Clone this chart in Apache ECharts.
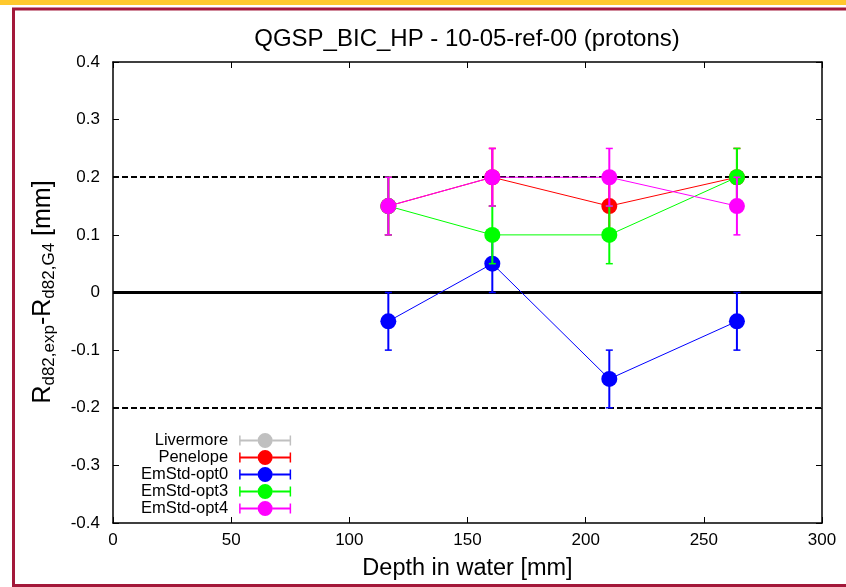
<!DOCTYPE html>
<html>
<head>
<meta charset="utf-8">
<script src="https://cdn.jsdelivr.net/npm/echarts@6/dist/echarts.min.js"></script>
<style>
  html, body { margin: 0; padding: 0; background: #fff; }
  #chart { width: 846px; height: 587px; }
</style>
</head>
<body>
<div id="chart"></div>
<script>
// depth of the measurement points [mm]
var depth = [116.5, 160.5, 210, 264];

// R_exp - R_G4 [mm] per physics list
var livermore = [];
var penelope = [0.15, 0.2, 0.15, 0.2];
var emstdOpt0 = [-0.05, 0.05, -0.15, -0.05];
var emstdOpt3 = [0.15, 0.1, 0.1, 0.2];
var emstdOpt4 = [0.15, 0.2, 0.2, 0.15];

// error bars (half width)
var penelopeErr = [0.05, 0.05, 0.05, 0.05];
var emstdOpt0Err = [0.05, 0.05, 0.05, 0.05];
var emstdOpt3Err = [0.05, 0.05, 0.05, 0.05];
var emstdOpt4Err = [0.05, 0.05, 0.05, 0.05];

var bandLines = [0.2, -0.2];
var zeroLine = [0];

var xTicks = [0, 50, 100, 150, 200, 250, 300];
var yTicks = [-0.4, -0.3, -0.2, -0.1, 0, 0.1, 0.2, 0.3, 0.4];

var FONT = 'Liberation Sans';

// legend icon: error bar with a dot in the middle
var errIcon = 'path://M0,2.5L1.5,2.5L1.5,12.5L0,12.5Z' +
  'M1.5,6.6L18.6,6.6L18.6,8.4L1.5,8.4Z' +
  'M33.4,6.6L50.5,6.6L50.5,8.4L33.4,8.4Z' +
  'M50.5,2.5L52,2.5L52,12.5L50.5,12.5Z' +
  'M18.5,7.5A7.5,7.5,0,1,0,33.5,7.5A7.5,7.5,0,1,0,18.5,7.5Z';

var models = [
  {name: 'Livermore', color: '#c0c0c0', vals: livermore, err: []},
  {name: 'Penelope', color: '#ff0000', vals: penelope, err: penelopeErr},
  {name: 'EmStd-opt0', color: '#0000ff', vals: emstdOpt0, err: emstdOpt0Err},
  {name: 'EmStd-opt3', color: '#00ff00', vals: emstdOpt3, err: emstdOpt3Err},
  {name: 'EmStd-opt4', color: '#ff00ff', vals: emstdOpt4, err: emstdOpt4Err}
];

function makeErrRender(color) {
  return function (params, api) {
    var x = api.value(0);
    var lo = api.coord([x, api.value(1)]);
    var hi = api.coord([x, api.value(2)]);
    var c = 3.5;
    return {
      type: 'group',
      children: [
        {type: 'line', shape: {x1: lo[0], y1: lo[1], x2: hi[0], y2: hi[1]}, style: {stroke: color, lineWidth: 2}},
        {type: 'line', shape: {x1: lo[0] - c, y1: lo[1], x2: lo[0] + c, y2: lo[1]}, style: {stroke: color, lineWidth: 1.5}},
        {type: 'line', shape: {x1: hi[0] - c, y1: hi[1], x2: hi[0] + c, y2: hi[1]}, style: {stroke: color, lineWidth: 1.5}}
      ]
    };
  };
}

var series = [];
// reference lines
series.push({
  type: 'line', name: '_ref', data: [], silent: true, z: 1,
  markLine: {
    silent: true, symbol: 'none', label: {show: false}, animation: false,
    data: bandLines.map(function (v) {
      return {yAxis: v, lineStyle: {color: '#000', width: 2, type: [6, 3]}};
    }).concat(zeroLine.map(function (v) {
      return {yAxis: v, lineStyle: {color: '#000', width: 3, type: 'solid'}};
    }))
  }
});

models.forEach(function (m, i) {
  var pts = m.vals.map(function (v, k) { return [depth[k], v]; });
  var errs = m.vals.map(function (v, k) {
    return [depth[k], v - m.err[k], v + m.err[k]];
  });
  series.push({
    type: 'custom', name: m.name, z: 2 + i * 2,
    renderItem: makeErrRender(m.color),
    itemStyle: {color: m.color},
    encode: {x: 0, y: [1, 2]},
    data: errs,
    animation: false
  });
  series.push({
    type: 'line', name: m.name, z: 3 + i * 2,
    data: pts,
    color: m.color,
    symbol: 'circle', symbolSize: 16,
    lineStyle: {color: m.color, width: 1},
    itemStyle: {color: m.color},
    animation: false
  });
});

function boxAxis(extra) {
  var base = {
    type: 'value',
    axisLine: {onZero: false, lineStyle: {color: '#000', width: 1.5}},
    axisTick: {inside: true, length: 6, lineStyle: {color: '#000'}},
    splitLine: {show: false}
  };
  for (var k in extra) base[k] = extra[k];
  return base;
}

var chart = echarts.init(document.getElementById('chart'));
chart.setOption({
  backgroundColor: '#fff',
  animation: false,
  title: {
    text: 'QGSP_BIC_HP - 10-05-ref-00 (protons)',
    left: 462, top: 22, textAlign: 'center',
    textStyle: {fontFamily: FONT, fontSize: 24, fontWeight: 'normal', color: '#000'}
  },
  legend: {
    orient: 'vertical', align: 'right',
    left: 136, top: 427,
    itemWidth: 52, itemHeight: 15, itemGap: 0,
    textStyle: {fontFamily: FONT, fontSize: 16.5, lineHeight: 14, color: '#000', padding: [0, 6, 0, 0]},
    data: models.map(function (m) {
      return {name: m.name, icon: errIcon, itemStyle: {color: m.color, borderWidth: 0}};
    }),
    selectedMode: false
  },
  grid: {left: 113, right: 24, top: 62, bottom: 64},
  xAxis: [boxAxis({
    min: xTicks[0], max: xTicks[xTicks.length - 1], interval: 50,
    name: 'Depth in water [mm]', nameLocation: 'middle', nameGap: 34,
    nameTextStyle: {fontFamily: FONT, fontSize: 23.5, color: '#000'},
    axisLabel: {fontFamily: FONT, fontSize: 17, color: '#000', margin: 9}
  }), boxAxis({
    position: 'top', min: xTicks[0], max: xTicks[xTicks.length - 1], interval: 50,
    axisLabel: {show: false}
  })],
  yAxis: [boxAxis({
    min: yTicks[0], max: yTicks[yTicks.length - 1], interval: 0.1,
    axisLabel: {fontFamily: FONT, fontSize: 17, color: '#000', margin: 13}
  }), boxAxis({
    position: 'right', min: yTicks[0], max: yTicks[yTicks.length - 1], interval: 0.1,
    axisLabel: {show: false}
  })],
  graphic: [
    {type: 'rect', shape: {x: 0, y: 0, width: 846, height: 5}, style: {fill: '#ffc82e'}, silent: true},
    {type: 'rect', shape: {x: 13.5, y: 9, width: 900, height: 576.5}, style: {fill: 'none', stroke: '#a3183a', lineWidth: 3}, silent: true},
    {
      type: 'text', x: 43, y: 292, rotation: Math.PI / 2, silent: true,
      style: {
        text: '{r|R}{s|d82,exp}{r|-R}{s|d82,G4}{r| [mm]}',
        align: 'center', verticalAlign: 'middle',
        rich: {
          r: {fontFamily: FONT, fontSize: 25, lineHeight: 30, verticalAlign: 'middle', fill: '#000'},
          s: {fontFamily: FONT, fontSize: 17, lineHeight: 17, verticalAlign: 'bottom', fill: '#000'}
        }
      }
    }
  ],
  series: series
});
</script>
</body>
</html>
